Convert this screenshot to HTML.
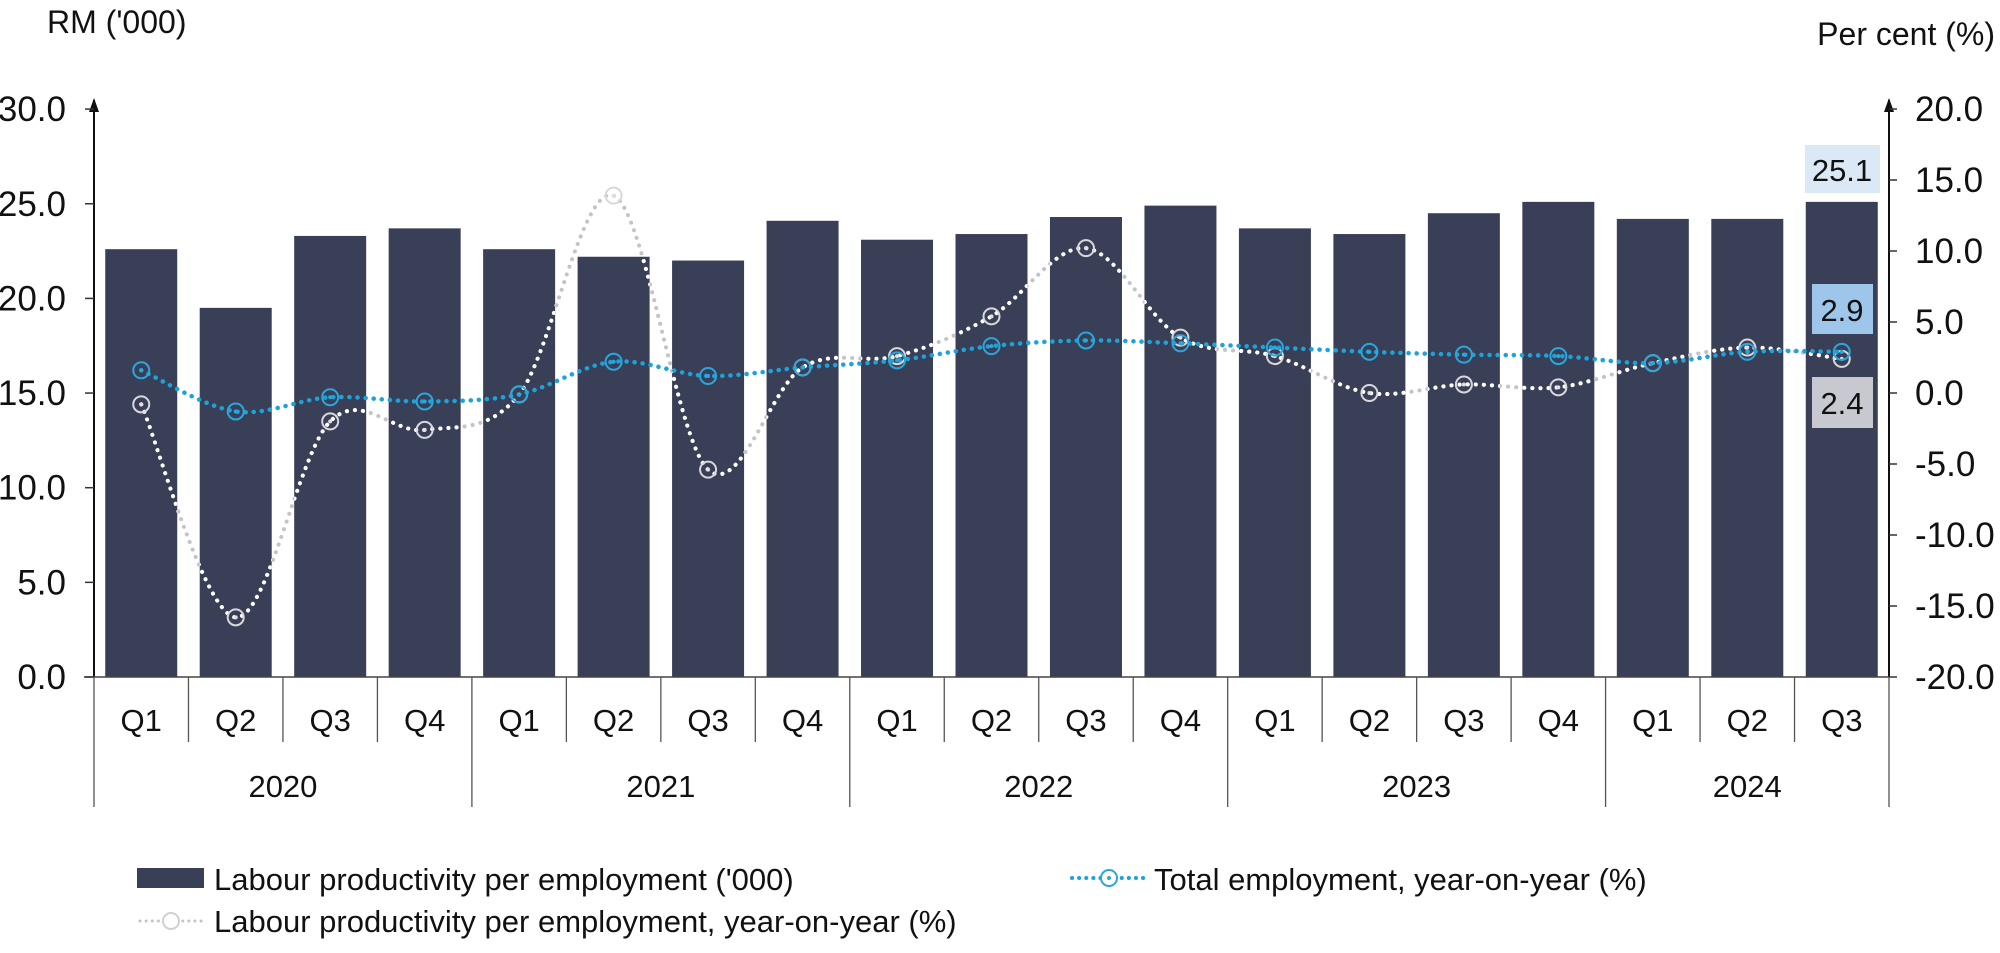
<!DOCTYPE html>
<html><head><meta charset="utf-8"><style>
html,body{margin:0;padding:0;background:#fff;}
svg text{font-family:"Liberation Sans",Arial,sans-serif;fill:#111;}
</style></head><body>
<svg id="c" width="2000" height="948" viewBox="0 0 2000 948" xmlns="http://www.w3.org/2000/svg"></svg>
<script>
const S=document.getElementById('c');let h='';
const X0=94,X1=1889,Y0=677,n=19,cw=(X1-X0)/n;
const bars=[22.6,19.5,23.3,23.7,22.6,22.2,22.0,24.1,23.1,23.4,24.3,24.9,23.7,23.4,24.5,25.1,24.2,24.2,25.1];
const emp=[1.6,-1.3,-0.3,-0.6,-0.1,2.2,1.2,1.8,2.3,3.3,3.7,3.5,3.2,2.9,2.7,2.6,2.1,2.9,2.9];
const prd=[-0.8,-15.8,-2.0,-2.6,-0.1,13.9,-5.4,1.8,2.6,5.4,10.2,3.9,2.6,0.0,0.6,0.4,2.1,3.2,2.4];
const yl=v=>Y0-v*18.93, yr=v=>393-v*14.2, cx=i=>X0+cw*(i+0.5);
let clip='';
bars.forEach((v,i)=>{const x=cx(i)-36,y=yl(v);h+=`<rect x="${x}" y="${y}" width="72" height="${Y0-y}" fill="#3a3f58"/>`;clip+=`<rect x="${x}" y="${y}" width="72" height="${Y0-y}"/>`;});
h=`<defs><clipPath id="cb">${clip}</clipPath></defs>`+h;
function path(vals){const p=vals.map((v,i)=>[cx(i),yr(v)]);let d=`M${p[0][0]},${p[0][1]}`;
for(let i=0;i<p.length-1;i++){const a=p[i-1]||p[i],b=p[i],c=p[i+1],e=p[i+2]||c;
d+=` C${b[0]+(c[0]-a[0])/6},${b[1]+(c[1]-a[1])/6} ${c[0]-(e[0]-b[0])/6},${c[1]-(e[1]-b[1])/6} ${c[0]},${c[1]}`;}return d;}
const dp=path(prd),de=path(emp);
h+=`<path d="${dp}" fill="none" stroke="#c4c4c8" stroke-width="4" stroke-dasharray="0.1 8" stroke-linecap="round"/>`;
h+=`<path d="${dp}" fill="none" stroke="#fff" stroke-width="4" stroke-dasharray="0.1 8" stroke-linecap="round" clip-path="url(#cb)"/>`;
prd.forEach((v,i)=>{h+=`<circle cx="${cx(i)}" cy="${yr(v)}" r="8" fill="none" stroke="#d8d8dc" stroke-width="2"/><circle cx="${cx(i)}" cy="${yr(v)}" r="2" fill="#e0e0e4"/>`;});
h+=`<path d="${de}" fill="none" stroke="#1ca3da" stroke-width="4.5" stroke-dasharray="0.1 8" stroke-linecap="round"/>`;
emp.forEach((v,i)=>{h+=`<circle cx="${cx(i)}" cy="${yr(v)}" r="8" fill="none" stroke="#2aa7dc" stroke-width="2"/><circle cx="${cx(i)}" cy="${yr(v)}" r="2" fill="#2aa7dc"/>`;});
h+=`<line x1="${X0}" y1="${Y0}" x2="${X0}" y2="100" stroke="#111" stroke-width="2"/><path d="M${X0-5},112 L${X0},98 L${X0+5},112Z" fill="#111"/>`;
h+=`<line x1="${X1}" y1="${Y0}" x2="${X1}" y2="100" stroke="#111" stroke-width="2"/><path d="M${X1-5},112 L${X1},98 L${X1+5},112Z" fill="#111"/>`;
h+=`<line x1="84" y1="${Y0}" x2="${X1}" y2="${Y0}" stroke="#444" stroke-width="1.5"/>`;
for(let k=0;k<=6;k++){const y=Y0-k*94.65;h+=`<line x1="85" y1="${y}" x2="${X0}" y2="${y}" stroke="#333" stroke-width="1.5"/><text x="66" y="${y+12}" font-size="35" text-anchor="end">${(k*5).toFixed(1)}</text>`;}
for(let k=0;k<=8;k++){const v=20-k*5;const yy=yr(v);h+=`<line x1="${X1}" y1="${yy}" x2="${X1+8}" y2="${yy}" stroke="#333" stroke-width="1.5"/><text x="1915" y="${yy+12}" font-size="35">${v.toFixed(1)}</text>`;}
for(let i=0;i<=n;i++){const x=X0+cw*i;const yr4=i%4==0||i==n;h+=`<line x1="${x}" y1="${Y0}" x2="${x}" y2="${yr4?807:742}" stroke="#555" stroke-width="1.3"/>`;}
for(let i=0;i<n;i++){h+=`<text x="${cx(i)}" y="731" font-size="31" text-anchor="middle">Q${i%4+1}</text>`;}
[2020,2021,2022,2023,2024].forEach((y,j)=>{const a=X0+cw*4*j,b=Math.min(X1,X0+cw*4*(j+1));h+=`<text x="${(a+b)/2}" y="797" font-size="31" text-anchor="middle">${y}</text>`;});
h+=`<text x="47" y="33" font-size="32">RM ('000)</text><text x="1995" y="45" font-size="32" text-anchor="end">Per cent (%)</text>`;
h+=`<rect x="1805" y="145" width="75" height="48" fill="#dbe8f5"/><text x="1842" y="181" font-size="31" text-anchor="middle">25.1</text>`;
h+=`<rect x="1812" y="284" width="61" height="50" fill="#9ec6ea"/><text x="1842" y="321" font-size="31" text-anchor="middle">2.9</text>`;
h+=`<rect x="1812" y="377" width="61" height="51" fill="#c8c9d0"/><text x="1842" y="414" font-size="31" text-anchor="middle">2.4</text>`;
h+=`<rect x="137" y="868" width="67" height="20" fill="#3a3f58"/><text x="214" y="890" font-size="31">Labour productivity per employment ('000)</text>`;
h+=`<line x1="140" y1="921" x2="204" y2="921" stroke="#c4c4c8" stroke-width="3" stroke-dasharray="0.1 6" stroke-linecap="round"/><circle cx="171" cy="921" r="8" fill="#fff" stroke="#d0d0d4" stroke-width="2"/><text x="214" y="932" font-size="31">Labour productivity per employment, year-on-year (%)</text>`;
h+=`<line x1="1072" y1="878" x2="1146" y2="878" stroke="#1ca3da" stroke-width="4" stroke-dasharray="0.1 7" stroke-linecap="round"/><circle cx="1109" cy="878" r="8" fill="#fff" stroke="#2aa7dc" stroke-width="2"/><circle cx="1109" cy="878" r="2" fill="#2aa7dc"/><text x="1154" y="890" font-size="31">Total employment, year-on-year (%)</text>`;
S.innerHTML=h;
</script>
</body></html>
